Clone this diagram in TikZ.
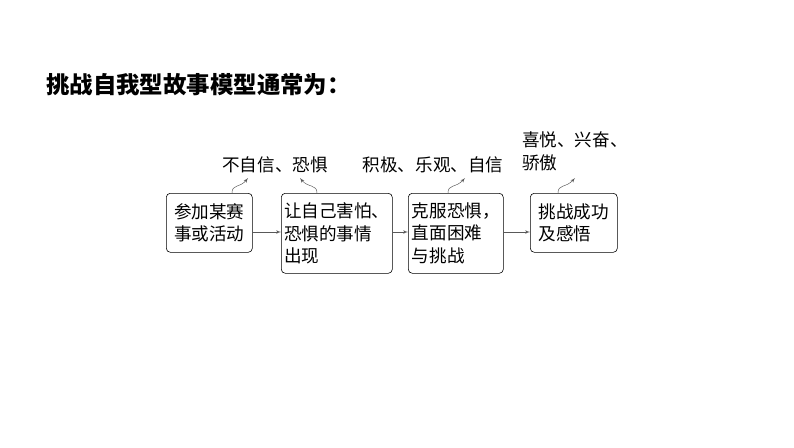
\documentclass[tikz,border=0pt]{standalone}
\usepackage{fontspec}
\setmainfont{Noto Sans CJK SC}
\usepackage{tikz}
\usetikzlibrary{arrows,calc}

\begin{document}
\begin{tikzpicture}[x=0.03cm, y=-0.03cm, >=latex',
  font=\fontsize{15}{19.5}\selectfont]
\tikzset{box/.style = {draw, rounded corners=.12cm, align=left,
  inner sep=1.5pt, anchor=north west, line width=.5pt},
  feel/.style = {->, line width=.4pt, gray!70!black}}
\useasboundingbox (0,0) rectangle (794,447);

  \node[anchor=west, font=\fontsize{20}{24}\selectfont\bfseries] (title)
    at (42,85) {挑战自我型故事模型通常为：};

  \node[box, minimum width=86*0.03cm, minimum height=59*0.03cm] (join)
    at (166,193) {参加某赛\\事或活动};
  \node[box, minimum width=111*0.03cm, minimum height=80*0.03cm] (fear)
    at (281,193) {让自己害怕、\\恐惧的事情\\出现};
  \node[box, minimum width=95*0.03cm, minimum height=80*0.03cm] (face)
    at (408,193) {克服恐惧，\\直面困难\\与挑战};
  \node[box, minimum width=87*0.03cm, minimum height=59*0.03cm] (win)
    at (530,193) {挑战成功\\及感悟};

  \draw[feel] (join.east |- 0,232) -- (fear.west |- 0,232);
  \draw[feel] (fear.east |- 0,232) -- (face.west |- 0,232);
  \draw[feel] (face.east |- 0,232) -- (win.west |- 0,232);

  % feelings
  \node (low) at (275,165) {不自信、恐惧};
  \node (high) at (433,165) {积极、乐观、自信};
  \node[align=left, anchor=north west] (joy) at (518,128) {喜悦、兴奋、\\骄傲};

  \coordinate (lowa) at (248,178);
  \coordinate (lowb) at (300,178);
  \coordinate (higha) at (465,178);
  \coordinate (joya) at (575,178);
  \draw[feel] (join.north -| 232,0) .. controls (232,184) and (240,188) .. (lowa);
  \draw[feel] (fear.north -| 317,0) .. controls (317,184) and (308,188) .. (lowb);
  \draw[feel] (face.north -| 448,0) .. controls (448,184) and (456,188) .. (higha);
  \draw[feel] (win.north -| 558,0) .. controls (558,184) and (566,188) .. (joya);

\end{tikzpicture}
\end{document}
